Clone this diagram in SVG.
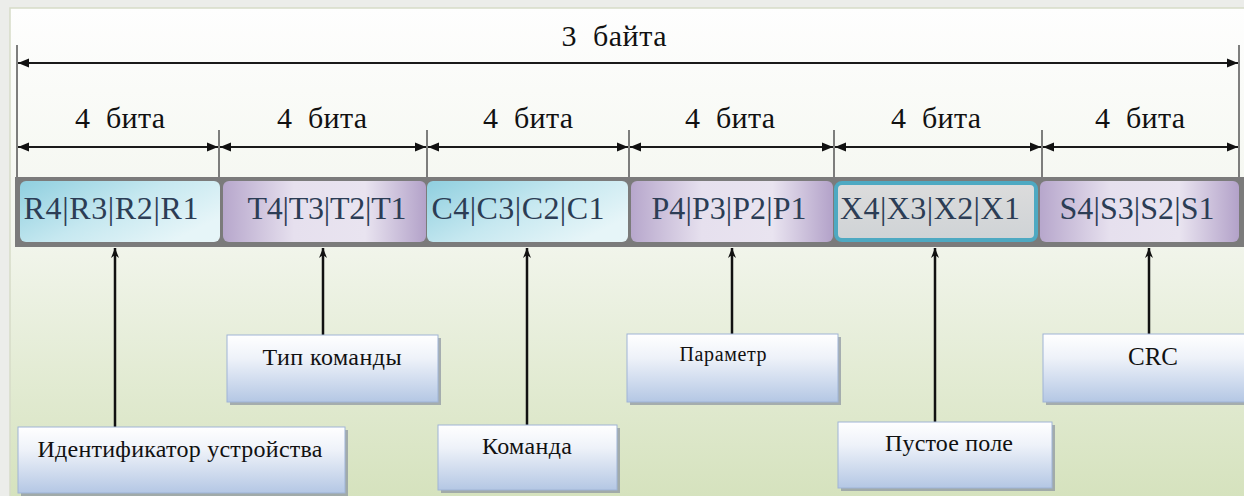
<svg xmlns="http://www.w3.org/2000/svg" width="1244" height="496" viewBox="0 0 1244 496">
<defs>
<linearGradient id="panel" x1="0" y1="0" x2="0" y2="1">
<stop offset="0" stop-color="#fefefe"/>
<stop offset="0.45" stop-color="#f3f6ee"/>
<stop offset="1" stop-color="#d5e2bd"/>
</linearGradient>
<linearGradient id="blue" x1="0" y1="0" x2="1" y2="0.6">
<stop offset="0" stop-color="#8fcfdf"/>
<stop offset="0.55" stop-color="#c6e8f0"/>
<stop offset="1" stop-color="#e6f5f8"/>
</linearGradient>
<linearGradient id="purple" x1="0" y1="0" x2="1" y2="0">
<stop offset="0" stop-color="#b7a7cc"/>
<stop offset="0.35" stop-color="#e6e0ee"/>
<stop offset="0.7" stop-color="#e9e4f0"/>
<stop offset="1" stop-color="#b3a2c9"/>
</linearGradient>
<linearGradient id="gray" x1="0" y1="0" x2="0" y2="1">
<stop offset="0" stop-color="#dcdcdc"/>
<stop offset="1" stop-color="#cfd3d6"/>
</linearGradient>
<linearGradient id="lbl" x1="0" y1="0" x2="0" y2="1">
<stop offset="0" stop-color="#ffffff"/>
<stop offset="0.35" stop-color="#eef2f9"/>
<stop offset="1" stop-color="#b4c7e4"/>
</linearGradient>
<marker id="ah" viewBox="0 0 10 10" refX="10" refY="5" markerWidth="12" markerHeight="11" orient="auto-start-reverse" markerUnits="userSpaceOnUse">
<path d="M0,1 L10,5 L0,9 z" fill="#111"/>
</marker>
<marker id="up" viewBox="0 0 10 10" refX="10" refY="5" markerWidth="12" markerHeight="10" orient="auto" markerUnits="userSpaceOnUse">
<path d="M0,1 L10,5 L0,9 L3,5 z" fill="#111"/>
</marker>
</defs>
<style>
.t{font-family:"Liberation Serif","Times New Roman",serif;fill:#111;text-anchor:middle;}
.top{font-size:30px;}
.seg{font-family:"Liberation Serif","Times New Roman",serif;font-size:32px;fill:#2c3d55;text-anchor:middle;}
.lt{font-size:24px;}
.dim{stroke:#1a1a1a;stroke-width:2;fill:none;}
.tick{stroke:#555;stroke-width:1.5;}
.lb{fill:url(#lbl);stroke:#9fb4d6;stroke-width:1;}
.sh{fill:#8a93a0;opacity:0.7;}
.conn{stroke:#111;stroke-width:2.5;fill:none;}
</style>
<rect x="0" y="0" width="1244" height="496" fill="#ecedea"/>
<rect x="10" y="8" width="1240" height="492" fill="url(#panel)" stroke="#d6dcc8" stroke-width="1.5"/>

<g id="dimensions">
<line class="tick" x1="17" y1="45" x2="17" y2="177"/>
<line class="tick" x1="1239" y1="45" x2="1239" y2="177"/>
<line class="tick" x1="219" y1="130" x2="219" y2="177"/>
<line class="tick" x1="427" y1="130" x2="427" y2="177"/>
<line class="tick" x1="629" y1="130" x2="629" y2="177"/>
<line class="tick" x1="834" y1="130" x2="834" y2="177"/>
<line class="tick" x1="1042" y1="130" x2="1042" y2="177"/>
<line class="dim" x1="18" y1="63" x2="1238" y2="63" marker-start="url(#ah)" marker-end="url(#ah)"/>
<text class="t top" x="614" y="46" textLength="105" xml:space="preserve">3  байта</text>
<line class="dim" x1="18" y1="147" x2="218" y2="147" marker-start="url(#ah)" marker-end="url(#ah)"/>
<line class="dim" x1="220" y1="147" x2="426" y2="147" marker-start="url(#ah)" marker-end="url(#ah)"/>
<line class="dim" x1="428" y1="147" x2="628" y2="147" marker-start="url(#ah)" marker-end="url(#ah)"/>
<line class="dim" x1="630" y1="147" x2="833" y2="147" marker-start="url(#ah)" marker-end="url(#ah)"/>
<line class="dim" x1="835" y1="147" x2="1041" y2="147" marker-start="url(#ah)" marker-end="url(#ah)"/>
<line class="dim" x1="1043" y1="147" x2="1238" y2="147" marker-start="url(#ah)" marker-end="url(#ah)"/>
<text class="t top" x="120" y="128" textLength="90" xml:space="preserve">4  бита</text>
<text class="t top" x="322" y="128" textLength="90" xml:space="preserve">4  бита</text>
<text class="t top" x="528" y="128" textLength="90" xml:space="preserve">4  бита</text>
<text class="t top" x="730" y="128" textLength="90" xml:space="preserve">4  бита</text>
<text class="t top" x="936" y="128" textLength="90" xml:space="preserve">4  бита</text>
<text class="t top" x="1140" y="128" textLength="90" xml:space="preserve">4  бита</text>
</g>

<g id="bar">
<rect x="15" y="177" width="1229" height="70" fill="#7b7b7b"/>
<rect x="20" y="181" width="200" height="61" rx="6" fill="url(#blue)"/>
<rect x="223" y="181" width="203" height="61" rx="6" fill="url(#purple)"/>
<rect x="427" y="181" width="201" height="61" rx="6" fill="url(#blue)"/>
<rect x="631" y="181" width="202" height="61" rx="6" fill="url(#purple)"/>
<rect x="836" y="183" width="200" height="57" rx="6" fill="url(#gray)" stroke="#4ea9c2" stroke-width="4"/>
<rect x="1040" y="181" width="199" height="61" rx="6" fill="url(#purple)"/>
</g>
<g id="seg-R"><text class="seg" x="111" y="219" textLength="175">R4|R3|R2|R1</text></g>
<g id="seg-T"><text class="seg" x="327" y="219" textLength="159">T4|T3|T2|T1</text></g>
<g id="seg-C"><text class="seg" x="518" y="219" textLength="173">C4|C3|C2|C1</text></g>
<g id="seg-P"><text class="seg" x="729" y="219" textLength="155">P4|P3|P2|P1</text></g>
<g id="seg-X"><text class="seg" x="930" y="219" textLength="180">X4|X3|X2|X1</text></g>
<g id="seg-S"><text class="seg" x="1137" y="219" textLength="155">S4|S3|S2|S1</text></g>

<g id="connectors">
<line class="conn" x1="115" y1="427" x2="115" y2="248" marker-end="url(#up)"/>
<line class="conn" x1="323" y1="335" x2="323" y2="248" marker-end="url(#up)"/>
<line class="conn" x1="527" y1="425" x2="527" y2="248" marker-end="url(#up)"/>
<line class="conn" x1="732" y1="334" x2="732" y2="248" marker-end="url(#up)"/>
<line class="conn" x1="935" y1="422" x2="935" y2="248" marker-end="url(#up)"/>
<line class="conn" x1="1149" y1="334" x2="1149" y2="248" marker-end="url(#up)"/>
</g>

<g id="label-id">
<rect class="sh" x="21" y="430" width="327" height="66"/>
<rect class="lb" x="18" y="427" width="327" height="66"/>
<text class="t lt" x="180" y="457" textLength="285">Идентификатор устройства</text>
</g>
<g id="label-type">
<rect class="sh" x="230" y="338" width="211" height="67"/>
<rect class="lb" x="227" y="335" width="211" height="67"/>
<text class="t lt" x="332" y="365" textLength="139">Тип команды</text>
</g>
<g id="label-cmd">
<rect class="sh" x="441" y="428" width="179" height="65"/>
<rect class="lb" x="438" y="425" width="179" height="65"/>
<text class="t lt" x="527" y="454" textLength="90">Команда</text>
</g>
<g id="label-param">
<rect class="sh" x="630" y="337" width="211" height="68"/>
<rect class="lb" x="627" y="334" width="211" height="68"/>
<text class="t" x="723" y="361" font-size="20" textLength="87">Параметр</text>
</g>
<g id="label-empty">
<rect class="sh" x="841" y="425" width="214" height="66"/>
<rect class="lb" x="838" y="422" width="214" height="66"/>
<text class="t lt" x="949" y="451" textLength="128">Пустое поле</text>
</g>
<g id="label-crc">
<rect class="sh" x="1046" y="337" width="210" height="68"/>
<rect class="lb" x="1043" y="334" width="210" height="68"/>
<text class="t" x="1153" y="365" font-size="25" textLength="50">CRC</text>
</g>
</svg>
